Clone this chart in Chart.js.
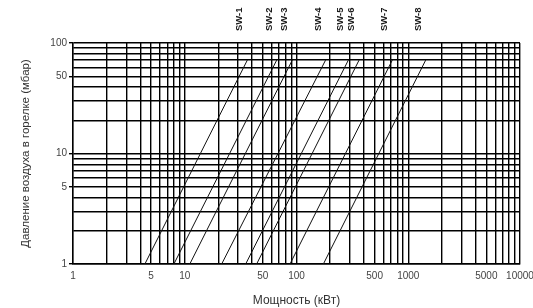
<!DOCTYPE html>
<html>
<head>
<meta charset="utf-8">
<script src="https://cdn.jsdelivr.net/npm/chart.js@4"></script>
<style>
  html, body { margin: 0; padding: 0; background: #fff; }
  #wrap { width: 533px; height: 308px; }
</style>
</head>
<body>
<div id="wrap"><canvas id="chart"></canvas></div>
<script>
// burner curves: power (kW) where each line hits 1 and 70 mbar
const seriesNames = ['SW-1', 'SW-2', 'SW-3', 'SW-4', 'SW-5', 'SW-6', 'SW-7', 'SW-8'];
const powerLow = [4.4, 8.0, 11.1, 21.4, 35.1, 44, 87.5, 174];
const powerHigh = [36.3, 66.5, 91.7, 182, 291, 363, 720, 1432];
const pressureEnds = [1, 70];

const xTickLabels = [1, 5, 10, 50, 100, 500, 1000, 5000, 10000];
const yTickLabels = [1, 5, 10, 50, 100];

// log grid: every 1..9 of each decade
function logGrid(from, to) {
  const out = [];
  for (let d = from; d < to; d *= 10) {
    for (let m = 1; m < 10; m++) out.push(m * d);
  }
  out.push(to);
  return out;
}
const xGrid = logGrid(1, 10000);
const yGrid = logGrid(1, 100);

const datasets = seriesNames.map((name, i) => ({
  label: name,
  data: [
    { x: powerLow[i], y: pressureEnds[0] },
    { x: powerHigh[i], y: pressureEnds[1] },
  ],
  borderColor: '#111',
  borderWidth: 1,
  pointRadius: 0,
  showLine: true,
  fill: false,
}));

const seriesLabels = {
  id: 'seriesLabels',
  afterDraw(chart) {
    const ctx = chart.ctx;
    const xs = chart.scales.x;
    ctx.save();
    ctx.font = 'bold 9.5px "Liberation Sans", Arial, sans-serif';
    ctx.fillStyle = '#1a1a1a';
    ctx.textAlign = 'left';
    ctx.textBaseline = 'middle';
    seriesNames.forEach((name, i) => {
      const px = xs.getPixelForValue(powerHigh[i]) - 7.5;
      ctx.save();
      ctx.translate(px, 31);
      ctx.rotate(-Math.PI / 2);
      ctx.fillText(name, 0, 0);
      ctx.restore();
    });
    ctx.restore();
  }
};

function gridOpts(labelled) {
  return {
    color: '#000',
    lineWidth: 1.4,
    tickLength: 4,
    tickWidth: 1.4,
    tickColor: c => labelled.includes(c.tick && c.tick.value) ? '#000' : 'rgba(0,0,0,0)',
  };
}

const tickFont = { family: '"Liberation Sans", Arial, sans-serif', size: 10 };

new Chart(document.getElementById('chart'), {
  type: 'scatter',
  data: { datasets },
  options: {
    responsive: true,
    maintainAspectRatio: false,
    animation: false,
    layout: { padding: { top: 43, right: 0, left: 0, bottom: 0 } },
    plugins: { legend: { display: false }, tooltip: { enabled: false } },
    scales: {
      x: {
        type: 'logarithmic',
        min: 1,
        max: 10000,
        afterBuildTicks: s => { s.ticks = xGrid.map(v => ({ value: v })); },
        afterFit: s => { s.height = 44; s.paddingRight = 13; s.paddingLeft = 0; },
        border: { display: true, color: '#000', width: 1.4 },
        grid: Object.assign(gridOpts([]), { tickLength: 3 }),
        ticks: {
          autoSkip: false,
          maxRotation: 0,
          padding: 3,
          color: '#444',
          font: tickFont,
          callback: v => xTickLabels.includes(v) ? String(v) : '',
        },
        title: {
          display: true,
          text: 'Мощность (кВт)',
          color: '#333',
          padding: { top: 0, bottom: 0 },
          font: { family: '"Liberation Sans", Arial, sans-serif', size: 12 },
        },
      },
      y: {
        type: 'logarithmic',
        min: 1,
        max: 100,
        afterBuildTicks: s => { s.ticks = yGrid.map(v => ({ value: v })); },
        afterFit: s => { s.width = 73; },
        border: { display: true, color: '#000', width: 1.4 },
        grid: gridOpts(yTickLabels),
        ticks: {
          autoSkip: false,
          padding: 2,
          color: '#444',
          font: tickFont,
          callback: v => yTickLabels.includes(v) ? String(v) : '',
        },
        title: {
          display: true,
          text: 'Давление воздуха в горелке (мбар)',
          color: '#333',
          padding: { top: 19, bottom: 0 },
          font: { family: '"Liberation Sans", Arial, sans-serif', size: 11.5 },
        },
      },
    },
  },
  plugins: [seriesLabels],
});
</script>
</body>
</html>
